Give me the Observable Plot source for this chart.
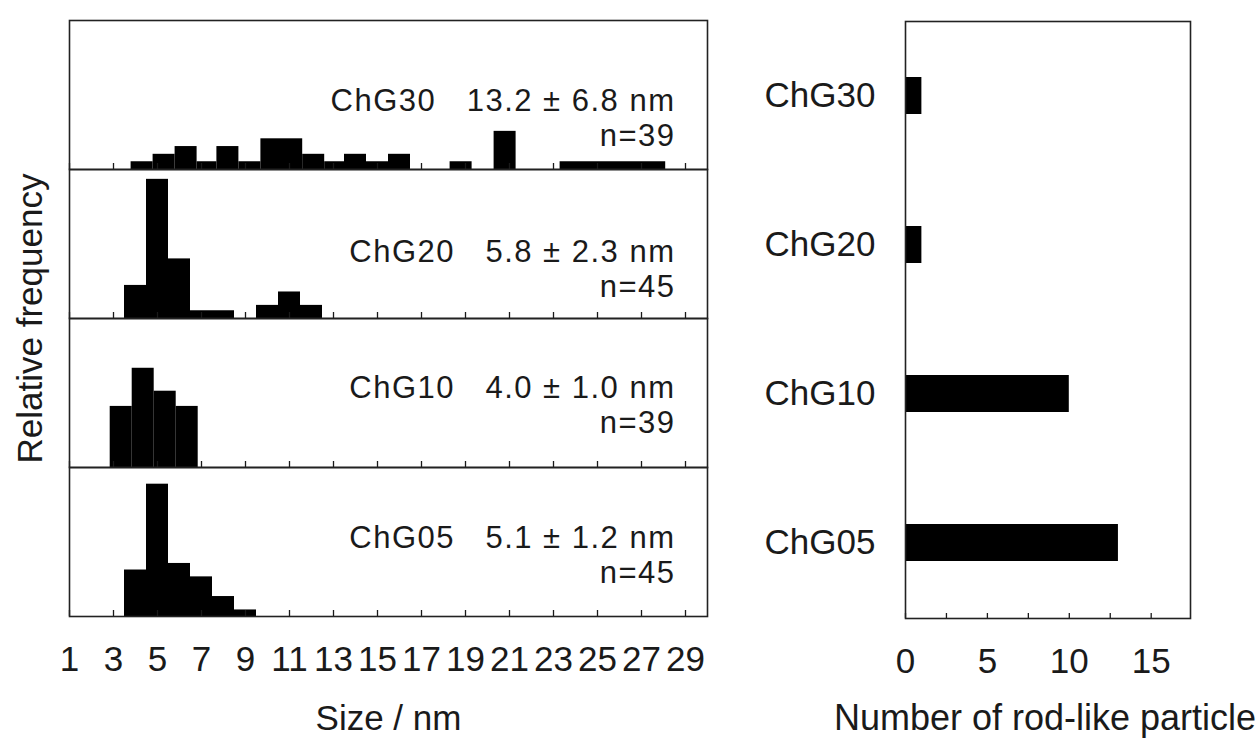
<!DOCTYPE html>
<html>
<head>
<meta charset="utf-8">
<script src="https://cdn.jsdelivr.net/npm/d3@7"></script>
<script src="https://cdn.jsdelivr.net/npm/@observablehq/plot@0.6"></script>
<style>
  html, body { margin: 0; padding: 0; background: #fff; }
  #wrap { position: relative; width: 1260px; height: 739px; overflow: hidden; background: #fff; }
  #left, #right { position: absolute; top: 0; }
  #left { left: 0; }
  #right { left: 760px; }
</style>
</head>
<body>
<div id="wrap"><div id="left"></div><div id="right"></div></div>
<script>
// ---- data ----
const samples = ["ChG30", "ChG20", "ChG10", "ChG05"];
const meanSize = ["13.2", "5.8", "4.0", "5.1"];
const sdSize = ["6.8", "2.3", "1.0", "1.2"];
const nCounted = [39, 45, 39, 45];

// histogram bins: lower edge, upper edge (nm), relative frequency (%)
const lo30 = [3.8, 4.8, 5.8, 6.8, 7.7, 8.7, 9.7, 11.6, 12.6, 13.5, 14.5, 15.5, 18.3, 20.3, 23.3];
const hi30 = [4.8, 5.8, 6.8, 7.7, 8.7, 9.7, 11.6, 12.6, 13.5, 14.5, 15.5, 16.5, 19.3, 21.3, 28.1];
const fr30 = [2.6, 5.1, 7.7, 2.6, 7.7, 2.6, 10.3, 5.1, 2.6, 5.1, 2.6, 5.1, 2.6, 12.8, 2.6];

const lo20 = [3.5, 4.5, 5.5, 6.5, 9.5, 10.5, 11.5];
const hi20 = [4.5, 5.5, 6.5, 8.5, 10.5, 11.5, 12.5];
const fr20 = [11.1, 46.7, 20.0, 2.6, 4.4, 8.9, 4.4];

const lo10 = [2.85, 3.85, 4.85, 5.85];
const hi10 = [3.85, 4.85, 5.85, 6.85];
const fr10 = [20.5, 33.3, 25.6, 20.5];

const lo05 = [3.5, 4.5, 5.5, 6.5, 7.5, 8.5];
const hi05 = [4.5, 5.5, 6.5, 7.5, 8.5, 9.5];
const fr05 = [15.6, 44.4, 17.8, 13.3, 6.7, 2.2];

const rodCounts = [1, 1, 10, 13];

const sizeTicks = [1, 3, 5, 7, 9, 11, 13, 15, 17, 19, 21, 23, 25, 27, 29];
const countTicks = [0, 5, 10, 15];
const countMinorTicks = [0, 2.5, 5, 7.5, 10, 12.5, 15];

// ---- tables built from the arrays ----
const binSets = [[lo30, hi30, fr30], [lo20, hi20, fr20], [lo10, hi10, fr10], [lo05, hi05, fr05]];
const bins = [];
samples.forEach((s, k) => {
  const [lo, hi, fr] = binSets[k];
  lo.forEach((v, i) => bins.push({sample: s, lo: v, hi: hi[i], freq: fr[i]}));
});
const NB = "\u00a0";
const panelLabels = samples.map((s, i) => ({
  sample: s,
  line1: `${s}${NB}${NB}${NB}${meanSize[i]}${NB}±${NB}${sdSize[i]} nm`,
  line2: `n=${nCounted[i]}`
}));
const rodTable = samples.map((s, i) => ({sample: s, count: rodCounts[i]}));
const rodTitle = ["Number of rod-like particle"];

// ---- layout / style ----
const font = "'Liberation Sans', Arial, Helvetica, sans-serif";
const ink = "#1a1a1a";
const fs = 35;
const labelOffsetsPx = {ChG30: 81, ChG20: 83, ChG10: 70, ChG05: 71}; // label line-1 centre below panel top

const labelMarks = samples.flatMap((s) => {
  const d = panelLabels.filter((p) => p.sample === s);
  const off = labelOffsetsPx[s];
  return [
    Plot.text(d, {fy: "sample", text: "line1", frameAnchor: "top-right", textAnchor: "end", lineAnchor: "middle", dx: -32, dy: off, fontSize: 31}),
    Plot.text(d, {fy: "sample", text: "line2", frameAnchor: "top-right", textAnchor: "end", lineAnchor: "middle", dx: -32, dy: off + 35, fontSize: 31})
  ];
});

const left = Plot.plot({
  width: 760, height: 739,
  marginLeft: 69, marginRight: 53, marginTop: 19, marginBottom: 122,
  style: {fontFamily: font, fontSize: fs + "px", color: ink, background: "#fff", overflow: "visible"},
  x: {domain: [1, 30]},
  y: {domain: [0, 50], axis: null},
  fy: {domain: samples, padding: 0},
  marks: [
    Plot.rectY(bins, {x1: "lo", x2: "hi", y: "freq", fy: "sample", fill: "#000"}),
    Plot.axisX(sizeTicks, {anchor: "bottom", facetAnchor: null, tickSize: -6, tickFormat: () => "", label: null, strokeWidth: 1.3}),
    Plot.axisX(sizeTicks, {anchor: "bottom", tickSize: 0, tickPadding: 30, label: "Size / nm", labelAnchor: "center", labelOffset: 113, labelArrow: "none"}),
    Plot.axisFy({anchor: "left", tickSize: 0, tickFormat: () => "", label: "Relative frequency", labelAnchor: "center", labelOffset: 52, labelArrow: "none"}),
    ...labelMarks,
    Plot.frame({stroke: "#222", strokeWidth: 1.6})
  ]
});
// slightly wider tracking for the in-panel annotations, as in the reference
d3.select(left).selectAll('g[aria-label="text"] text').style("letter-spacing", "1.5px");
document.getElementById("left").appendChild(left);

const right = Plot.plot({
  width: 500, height: 739,
  marginLeft: 145, marginRight: 70, marginTop: 21, marginBottom: 121,
  style: {fontFamily: font, fontSize: fs + "px", color: ink, background: "#fff", overflow: "visible"},
  x: {domain: [0, 17.4]},
  y: {domain: samples, paddingInner: 0.75, paddingOuter: 0.375},
  marks: [
    Plot.barX(rodTable, {x: "count", y: "sample", fill: "#000"}),
    Plot.axisX(countMinorTicks, {anchor: "bottom", tickSize: -5, tickFormat: () => "", label: null, strokeWidth: 1.3}),
    Plot.axisX(countTicks, {anchor: "bottom", tickSize: 0, tickPadding: 30, label: null}),
    Plot.text(rodTitle, {text: (d) => d, frameAnchor: "bottom", textAnchor: "middle", lineAnchor: "middle", dx: -3, dy: 100, fontSize: 36}),
    Plot.axisY({anchor: "left", tickSize: 0, tickPadding: 30, label: null}),
    Plot.frame({stroke: "#222", strokeWidth: 1.6})
  ]
});
document.getElementById("right").appendChild(right);
</script>
</body>
</html>
